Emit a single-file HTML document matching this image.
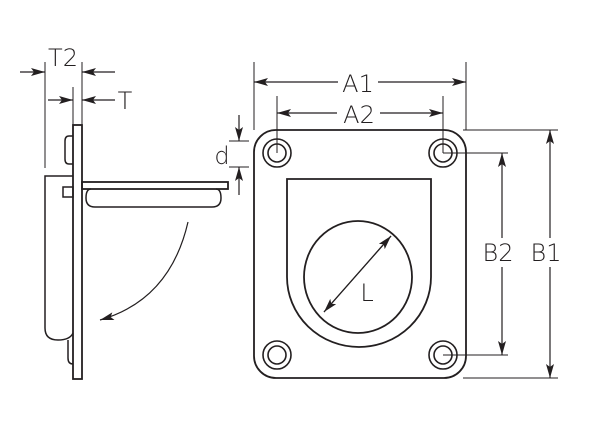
<!DOCTYPE html>
<html><head><meta charset="utf-8"><style>
html,body{margin:0;padding:0;background:#fff;}
svg{display:block;}
text{font-family:"DejaVu Sans","Liberation Sans",sans-serif;font-weight:200;fill:#231f20;font-size:24px;}
</style></head><body>
<svg width="600" height="439" viewBox="0 0 600 439" xmlns="http://www.w3.org/2000/svg">
<defs>
<marker id="ah" viewBox="0 0 14 8" refX="14" refY="4" markerWidth="14" markerHeight="8" markerUnits="userSpaceOnUse" orient="auto">
<path d="M0,0 L14,4 L0,8 L3,4 Z" fill="#231f20"/></marker>
</defs>
<g fill="none" stroke="#231f20" stroke-width="1.2">
<rect x="73" y="125" width="9" height="254" fill="#fff" stroke-width="1.8"/>
<path d="M73,136 L69,136 Q65,136 65,141 L65,159 Q65,164 69,164 L73,164" stroke-width="1.5"/>
<path d="M73,176 L45,176 L45,328 Q45,340 58,340 Q70,340 73,333" stroke-width="1.5"/>
<path d="M68,340 L68,358 Q68,364 73,364" stroke-width="1.5"/>
<rect x="63" y="187" width="10" height="10" stroke-width="1.5"/>
<rect x="82" y="182" width="146" height="7" stroke-width="1.8"/>
<path d="M91,189 Q86,189 86,198 Q86,207 95,207 L212,207 Q221,207 221,198 Q221,189 216,189" stroke-width="1.5"/>
<path d="M188,222 Q170,300 100,320" marker-end="url(#ah)"/>
<line x1="45" y1="62" x2="45" y2="168" stroke-width="1"/>
<line x1="82" y1="62" x2="82" y2="125" stroke-width="1"/>
<line x1="73" y1="87" x2="73" y2="125" stroke-width="1"/>
<line x1="20" y1="72" x2="45" y2="72" marker-end="url(#ah)"/>
<line x1="115" y1="72" x2="82" y2="72" marker-end="url(#ah)"/>
<line x1="48" y1="100" x2="73" y2="100" marker-end="url(#ah)"/>
<line x1="115" y1="100" x2="82" y2="100" marker-end="url(#ah)"/>
<line x1="229" y1="141" x2="249" y2="141" stroke-width="1"/>
<line x1="229" y1="167" x2="249" y2="167" stroke-width="1"/>
<line x1="239" y1="115" x2="239" y2="141" marker-end="url(#ah)"/>
<line x1="239" y1="195" x2="239" y2="167" marker-end="url(#ah)"/>
<rect x="254" y="130" width="212" height="248" rx="22" stroke-width="1.8"/>
<path d="M287,179 L431,179 L431,277 A72,70 0 0 1 287,277 Z" stroke-width="1.8"/>
<ellipse cx="358" cy="277" rx="54" ry="56" stroke-width="1.8"/>
<g stroke-width="1.6">
<circle cx="277" cy="153" r="14"/><circle cx="277" cy="153" r="9"/>
<circle cx="443" cy="153" r="14"/><circle cx="443" cy="153" r="9"/>
<circle cx="277" cy="355" r="14"/><circle cx="277" cy="355" r="9"/>
<circle cx="443" cy="355" r="14"/><circle cx="443" cy="355" r="9"/>
</g>
<line x1="324" y1="312" x2="391" y2="236" marker-end="url(#ah)"/>
<line x1="391" y1="236" x2="324" y2="312" marker-end="url(#ah)"/>
<line x1="254" y1="62" x2="254" y2="130" stroke-width="1"/>
<line x1="466" y1="62" x2="466" y2="130" stroke-width="1"/>
<line x1="277" y1="96" x2="277" y2="153" stroke-width="1"/>
<line x1="443" y1="96" x2="443" y2="153" stroke-width="1"/>
<line x1="338" y1="82" x2="254" y2="82" marker-end="url(#ah)"/>
<line x1="378" y1="82" x2="466" y2="82" marker-end="url(#ah)"/>
<line x1="337" y1="113" x2="277" y2="113" marker-end="url(#ah)"/>
<line x1="380" y1="113" x2="443" y2="113" marker-end="url(#ah)"/>
<line x1="463" y1="130" x2="558" y2="130" stroke-width="1"/>
<line x1="463" y1="378" x2="558" y2="378" stroke-width="1"/>
<line x1="443" y1="153" x2="508" y2="153" stroke-width="1"/>
<line x1="443" y1="355" x2="508" y2="355" stroke-width="1"/>
<line x1="502" y1="238" x2="502" y2="153" marker-end="url(#ah)"/>
<line x1="502" y1="267" x2="502" y2="355" marker-end="url(#ah)"/>
<line x1="550" y1="238" x2="550" y2="130" marker-end="url(#ah)"/>
<line x1="550" y1="267" x2="550" y2="378" marker-end="url(#ah)"/>
</g>
<g stroke="none">
<text x="63" y="66" text-anchor="middle">T2</text>
<text x="125" y="109" text-anchor="middle">T</text>
<text x="222" y="164" text-anchor="middle">d</text>
<text x="358" y="92" text-anchor="middle">A1</text>
<text x="359" y="123" text-anchor="middle">A2</text>
<text x="498" y="261" text-anchor="middle">B2</text>
<text x="546" y="261" text-anchor="middle">B1</text>
<text x="367" y="301" text-anchor="middle">L</text>
</g>
</svg>
</body></html>
